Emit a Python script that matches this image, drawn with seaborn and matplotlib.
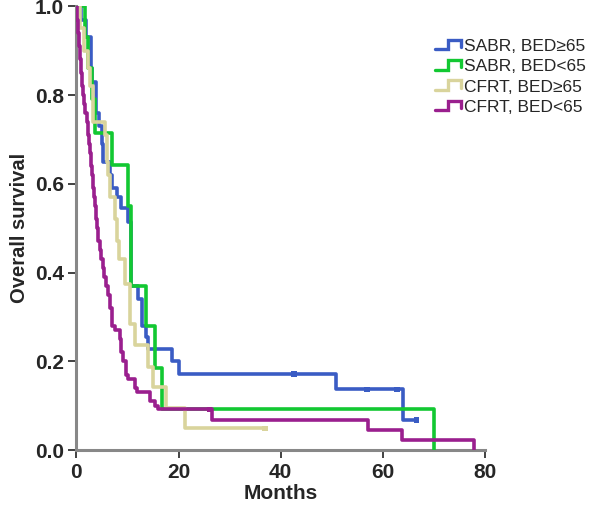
import matplotlib
matplotlib.use("Agg")
import matplotlib.pyplot as plt
import seaborn as sns
import pandas as pd
from matplotlib.lines import Line2D
from matplotlib.legend_handler import HandlerBase

# Kaplan-Meier steps (months, survival after the step)
group_names = ["SABR, BED\u226565", "SABR, BED<65", "CFRT, BED\u226565", "CFRT, BED<65"]
group_colors = ["#3a5cc4", "#12c832", "#d9d49c", "#9a1f8e"]

sabr_hi_t = [0, 1.0, 1.9, 2.8, 3.1, 3.9, 4.4, 5.0, 5.3, 6.6, 7.0, 8.0, 8.7, 10.1, 10.7,
             12.1, 12.8, 13.6, 14.1, 18.8, 20.0, 50.9, 63.9, 66.6]
sabr_hi_s = [1.0, 0.97, 0.93, 0.86, 0.83, 0.76, 0.73, 0.69, 0.65, 0.62, 0.59, 0.57, 0.545, 0.515, 0.37,
             0.34, 0.28, 0.255, 0.227, 0.20, 0.172, 0.137, 0.068, 0.068]

sabr_lo_t = [0, 1.8, 2.3, 3.0, 3.6, 6.9, 10.1, 10.7, 13.6, 15.4, 16.7, 70.0]
sabr_lo_s = [1.0, 0.93, 0.86, 0.79, 0.714, 0.643, 0.55, 0.37, 0.28, 0.185, 0.092, 0.0]

cfrt_hi_t = [0, 0.8, 1.5, 2.2, 2.6, 3.3, 5.6, 6.0, 6.2, 6.6, 7.5, 7.9, 8.4, 9.5, 10.5,
             11.4, 14.1, 15.0, 17.6, 21.2, 36.9]
cfrt_hi_s = [1.0, 0.95, 0.90, 0.86, 0.82, 0.74, 0.71, 0.65, 0.62, 0.57, 0.52, 0.47, 0.43, 0.375, 0.285,
             0.236, 0.188, 0.143, 0.094, 0.049, 0.049]

cfrt_lo_t = [0, 0.2, 0.4, 0.6, 0.8, 1.0, 1.2, 1.4, 1.6, 1.8, 2.0, 2.2, 2.4, 2.6, 2.8, 3.0,
             3.2, 3.4, 3.6, 3.8, 4.0, 4.3, 4.6, 4.9, 5.2, 5.5, 5.8, 6.2, 6.5, 6.9, 7.5,
             8.5, 8.8, 9.2, 9.8, 10.1, 11.4, 11.8, 14.4, 15.4, 16.0, 26.6, 57.1, 63.8, 77.8]
cfrt_lo_s = [1.0, 0.97, 0.94, 0.91, 0.88, 0.85, 0.82, 0.80, 0.78, 0.76, 0.74, 0.71, 0.69, 0.67, 0.64, 0.62,
             0.59, 0.57, 0.55, 0.52, 0.50, 0.47, 0.45, 0.43, 0.41, 0.39, 0.37, 0.35, 0.32, 0.28, 0.27,
             0.25, 0.22, 0.20, 0.17, 0.16, 0.14, 0.13, 0.11, 0.10, 0.092, 0.069, 0.045, 0.0225, 0.0]

# censored observations
sabr_hi_cens_t = [42.6, 56.9, 62.7, 66.6]
sabr_hi_cens_s = [0.172, 0.137, 0.137, 0.068]
cfrt_hi_cens_t = [36.9]
cfrt_hi_cens_s = [0.049]
cfrt_lo_cens_t = [26.1]
cfrt_lo_cens_s = [0.092]

curves = pd.concat([
    pd.DataFrame({"Months": sabr_hi_t, "Survival": sabr_hi_s, "Group": group_names[0]}),
    pd.DataFrame({"Months": sabr_lo_t, "Survival": sabr_lo_s, "Group": group_names[1]}),
    pd.DataFrame({"Months": cfrt_hi_t, "Survival": cfrt_hi_s, "Group": group_names[2]}),
    pd.DataFrame({"Months": cfrt_lo_t, "Survival": cfrt_lo_s, "Group": group_names[3]}),
], ignore_index=True)

censored = pd.concat([
    pd.DataFrame({"Months": sabr_hi_cens_t, "Survival": sabr_hi_cens_s, "Group": group_names[0]}),
    pd.DataFrame({"Months": cfrt_hi_cens_t, "Survival": cfrt_hi_cens_s, "Group": group_names[2]}),
    pd.DataFrame({"Months": cfrt_lo_cens_t, "Survival": cfrt_lo_cens_s, "Group": group_names[3]}),
], ignore_index=True)

palette = dict(zip(group_names, group_colors))


class StepHandler(HandlerBase):
    def create_artists(self, legend, orig_handle, xdescent, ydescent, width, height, fontsize, trans):
        xs = [0, 0.5 * width, 0.5 * width, width, width]
        ys = [0.15 * height, 0.15 * height, 0.95 * height, 0.95 * height, 0.35 * height]
        line = Line2D([x - xdescent for x in xs], [y - ydescent for y in ys],
                      color=orig_handle.get_color(), lw=2.4, solid_joinstyle="miter")
        line.set_transform(trans)
        return [line]


sns.set_style("ticks")
plt.rcParams["font.family"] = ["Liberation Sans", "DejaVu Sans"]

fig = plt.figure(figsize=(5.96, 5.18), dpi=100)
ax = fig.add_axes([0.128, 0.131, 0.686, 0.857])

sns.lineplot(data=curves, x="Months", y="Survival", hue="Group", palette=palette,
             estimator=None, sort=False, drawstyle="steps-post", linewidth=2.6,
             legend=False, ax=ax, zorder=3)
sns.scatterplot(data=censored, x="Months", y="Survival", hue="Group", palette=palette,
                marker="s", s=16, linewidth=0, legend=False, ax=ax, zorder=4)

ax.set_xlim(0, 80)
ax.set_ylim(0, 1.0)
ax.set_xticks([0, 20, 40, 60, 80])
ax.set_yticks([0.0, 0.2, 0.4, 0.6, 0.8, 1.0])
ax.set_yticklabels([f"{v:.1f}" for v in [0.0, 0.2, 0.4, 0.6, 0.8, 1.0]])

for side in ["top", "right"]:
    ax.spines[side].set_visible(False)
for side in ["left", "bottom"]:
    ax.spines[side].set_color("#888888")
    ax.spines[side].set_linewidth(2.2)
ax.tick_params(axis="both", length=6, width=1.3, color="#333333", pad=3)

tick_font = ["Liberation Sans Narrow", "Liberation Sans", "DejaVu Sans"]
for lab in ax.get_xticklabels() + ax.get_yticklabels():
    lab.set_fontfamily(tick_font)
    lab.set_fontweight("bold")
    lab.set_fontsize(15)

ax.set_xlabel("Months", fontsize=15, fontweight="bold", labelpad=2)
ax.set_ylabel("Overall survival", fontsize=14.5, fontweight="bold", labelpad=4)

handles = [Line2D([], [], color=c) for c in group_colors]
fig.legend(handles, group_names, handler_map={Line2D: StepHandler()},
           loc="upper left", bbox_to_anchor=(0.703, 0.955), frameon=False,
           fontsize=12.5, handlelength=1.5, handletextpad=0.2, labelspacing=0.3)

fig.savefig("out.png", dpi=100)
